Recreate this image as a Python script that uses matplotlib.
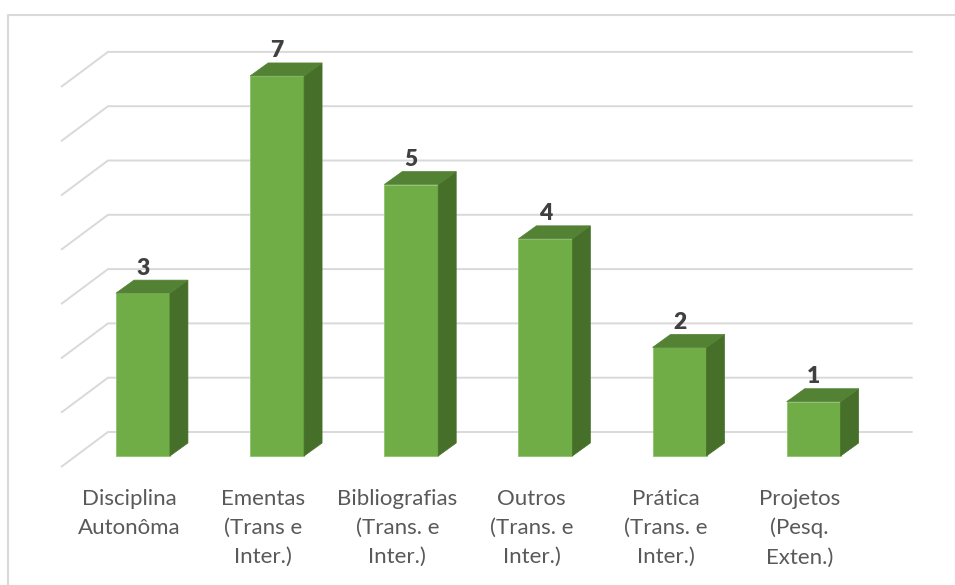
import matplotlib

matplotlib.use("Agg")
import matplotlib.pyplot as plt
from matplotlib.lines import Line2D
from matplotlib.patches import Polygon

categories = [
    "Disciplina\nAutonôma",
    "Ementas\n(Trans e\nInter.)",
    "Bibliografias\n(Trans. e\nInter.)",
    "Outros\n(Trans. e\nInter.)",
    "Prática\n(Trans. e\nInter.)",
    "Projetos\n(Pesq.\nExten.)",
]
values = [3, 7, 5, 4, 2, 1]
grid_values = [0, 1, 2, 3, 4, 5, 6, 7]

FRONT = "#70ad47"
TOP = "#548235"
SIDE = "#467029"
GRID = "#d9d9d9"

# fake 3d: offsets in data units
HALF_W = 0.201
SIDE_DX, SIDE_DY = 0.134, 0.239
WALL_DX, WALL_DY = 0.350, 0.645
FLOOR_Y = -0.203
GRID_X0, GRID_X1 = -0.611, 5.738

plt.rcParams["font.family"] = ["Lato", "DejaVu Sans"]

fig = plt.figure(figsize=(9.55, 5.85), dpi=100)
ax = fig.add_axes([55.8 / 955, 0.1927, (921 - 55.8) / 955, 0.9352 - 0.1927])
ax.set_xlim(-0.65, 5.8)
ax.set_ylim(-0.3, 7.7)
ax.axis("off")

# back wall grid with the slanted floor/side part
for v in grid_values:
    ax.plot([GRID_X0, GRID_X0 + WALL_DX, GRID_X1],
            [v + FLOOR_Y, v + FLOOR_Y + WALL_DY, v + FLOOR_Y + WALL_DY],
            color=GRID, lw=1.4, zorder=1, solid_capstyle="butt")

for i, (cat, v) in enumerate(zip(categories, values)):
    x0, x1 = i - HALF_W, i + HALF_W
    front = Polygon([(x0, 0), (x1, 0), (x1, v), (x0, v)], closed=True,
                    facecolor=FRONT, edgecolor="#8cc46a", lw=0.6, zorder=3)
    side = Polygon([(x1, 0), (x1 + SIDE_DX, SIDE_DY), (x1 + SIDE_DX, v + SIDE_DY), (x1, v)],
                   closed=True, facecolor=SIDE, edgecolor=SIDE, lw=0.5, zorder=3)
    top = Polygon([(x0, v), (x1, v), (x1 + SIDE_DX, v + SIDE_DY), (x0 + SIDE_DX, v + SIDE_DY)],
                  closed=True, facecolor=TOP, edgecolor=TOP, lw=0.5, zorder=3)
    for p in (front, side, top):
        ax.add_patch(p)
    ax.text(i, v + 0.46, str(v), ha="center", va="center", fontsize=16.5,
            fontweight="heavy", color="#404040", zorder=4)
    ax.text(i - 0.104, -0.6, cat, ha="center", va="top", fontsize=16,
            color="#595959", linespacing=1.56)

# chart area border (top and left edges visible)
fig.add_artist(Line2D([8 / 955, 8 / 955, 1.0], [0.0, 1 - 15 / 585, 1 - 15 / 585],
                      color=GRID, lw=1.5, transform=fig.transFigure))

fig.savefig("out.png", dpi=100)
